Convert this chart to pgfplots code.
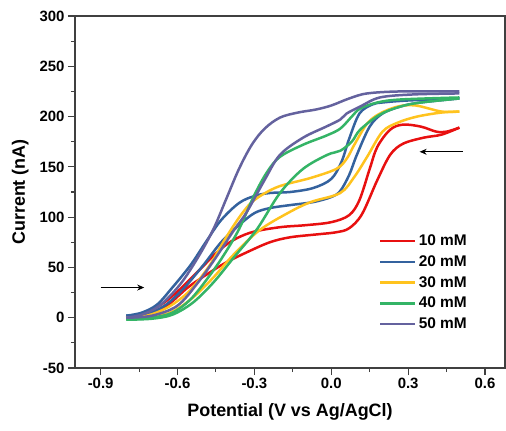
\documentclass[border=0pt]{standalone}
\usepackage{pgfplots}
\pgfplotsset{compat=1.18}
\usepackage{fontspec}
\setmainfont{Liberation Sans}
\usetikzlibrary{arrows.meta}
\definecolor{cRed}{RGB}{232,16,16}
\definecolor{cBlue}{RGB}{52,98,158}
\definecolor{cYel}{RGB}{255,195,30}
\definecolor{cGrn}{RGB}{52,180,102}
\definecolor{cPur}{RGB}{100,98,158}
\begin{document}
\begin{tikzpicture}
\begin{axis}[name=ax, scale only axis, width=430bp, height=352bp,
  xmin=-1.0, xmax=0.678, ymin=-50, ymax=300,
  xtick={-0.9,-0.6,-0.3,0,0.3,0.6}, ytick={-50,0,50,100,150,200,250,300},
  minor x tick num=1, minor y tick num=1,
  tick align=outside, xtick pos=bottom, ytick pos=left,
  major tick length=7bp, minor tick length=4bp,
  axis line style={line width=1.1bp, black!75},
  tick style={line width=1.1bp, black!75},
  xticklabel style={/pgf/number format/.cd, fixed, fixed zerofill, precision=1},
  /pgf/number format/assume math mode=true,
  ticklabel style={font=\fontsize{15}{17}\selectfont\bfseries},
  xlabel={Potential (V vs Ag/AgCl)}, ylabel={Current (nA)},
  label style={font=\fontsize{18}{21}\selectfont\bfseries},
  xlabel style={yshift=-8bp},
  ylabel style={yshift=4bp},
  legend style={at={(0.70,0.39)}, anchor=north west, draw=none, fill=none,
    font=\fontsize{15.5}{17}\selectfont\bfseries, row sep=4.5bp},
  legend cell align=left,
  legend image code/.code={\draw[#1, line width=2.6bp] (0bp,0bp) -- (35bp,0bp);},
  every axis plot/.append style={line width=2.5bp, smooth, tension=0.55},
]
% 10 mM
\addplot[cRed] coordinates {(-0.80,0) (-0.72,3) (-0.65,10) (-0.56,30) (-0.48,44) (-0.41,55) (-0.33,65) (-0.24,75) (-0.16,80) (-0.05,83) (0.02,85) (0.07,89) (0.12,103) (0.18,137) (0.23,162) (0.28,173) (0.36,179) (0.43,182) (0.50,189)};
\addlegendentry{10 mM}
\addplot[cRed, forget plot] coordinates {(-0.80,0) (-0.74,4) (-0.67,12) (-0.60,26) (-0.52,46) (-0.45,64) (-0.39,76) (-0.31,85) (-0.20,90) (-0.10,92) (0.00,95) (0.07,102) (0.11,117) (0.15,148) (0.18,170) (0.23,187) (0.28,192) (0.35,190) (0.41,185) (0.45,185) (0.50,189)};
% 20 mM
\addplot[cBlue] coordinates {(-0.80,2) (-0.72,4) (-0.65,12) (-0.58,28) (-0.50,52) (-0.43,75) (-0.36,92) (-0.30,104) (-0.24,109) (-0.16,112) (-0.07,115) (0.00,120) (0.035,126) (0.07,142) (0.10,162) (0.15,190) (0.20,203) (0.27,210) (0.35,214) (0.50,218)};
\addlegendentry{20 mM}
\addplot[cBlue, forget plot] coordinates {(-0.80,2) (-0.74,5) (-0.68,13) (-0.62,30) (-0.55,52) (-0.49,75) (-0.43,97) (-0.36,114) (-0.30,121) (-0.24,124) (-0.16,125) (-0.07,129) (0.00,138) (0.04,155) (0.07,178) (0.11,203) (0.16,212) (0.20,214) (0.30,216) (0.50,218)};
% 30 mM
\addplot[cYel] coordinates {(-0.80,0) (-0.70,1) (-0.62,6) (-0.54,20) (-0.46,40) (-0.38,63) (-0.28,87) (-0.17,104) (-0.08,115) (0.035,124) (0.09,140) (0.14,160) (0.20,185) (0.26,194) (0.335,200) (0.43,204) (0.50,205)};
\addlegendentry{30 mM}
\addplot[cYel, forget plot] coordinates {(-0.80,0) (-0.72,2) (-0.64,10) (-0.56,25) (-0.48,50) (-0.41,80) (-0.35,103) (-0.30,117) (-0.21,130) (-0.08,139) (0.02,148) (0.06,158) (0.09,172) (0.14,193) (0.19,203) (0.26,210) (0.33,211) (0.43,205) (0.50,205)};
% 40 mM
\addplot[cGrn] coordinates {(-0.80,-2) (-0.70,-1) (-0.62,3) (-0.54,15) (-0.46,35) (-0.38,60) (-0.29,88) (-0.20,124) (-0.11,148) (-0.015,162) (0.035,166) (0.08,175) (0.113,187) (0.19,202) (0.27,210) (0.35,214) (0.50,218)};
\addlegendentry{40 mM}
\addplot[cGrn, forget plot] coordinates {(-0.80,-2) (-0.70,0) (-0.62,5) (-0.55,18) (-0.48,40) (-0.42,62) (-0.36,88) (-0.30,122) (-0.25,145) (-0.20,160) (-0.11,172) (-0.02,181) (0.035,188) (0.08,200) (0.113,208) (0.18,214) (0.27,217) (0.50,219)};
% 50 mM
\addplot[cPur] coordinates {(-0.80,0) (-0.70,2) (-0.60,12) (-0.52,35) (-0.45,60) (-0.38,87) (-0.33,105) (-0.26,137) (-0.20,162) (-0.11,179) (-0.02,190) (0.035,197) (0.06,203) (0.113,210) (0.19,219) (0.32,222) (0.50,223)};
\addlegendentry{50 mM}
\addplot[cPur, forget plot] coordinates {(-0.80,0) (-0.74,3) (-0.67,12) (-0.59,33) (-0.52,60) (-0.46,88) (-0.41,118) (-0.36,148) (-0.31,172) (-0.26,188) (-0.20,199) (-0.13,204) (-0.06,207) (0.00,211) (0.07,218) (0.14,223) (0.27,225) (0.50,225)};
\draw[-{Stealth[length=7bp,width=6bp]}, line width=0.8bp] (axis cs:-0.9,30) -- (axis cs:-0.73,30);
\draw[-{Stealth[length=7bp,width=6bp]}, line width=0.8bp] (axis cs:0.514,165) -- (axis cs:0.345,165);
\end{axis}
\path ([xshift=-75bp,yshift=-63bp]ax.south west) rectangle ([xshift=1bp,yshift=16bp]ax.north east);
\end{tikzpicture}
\end{document}
